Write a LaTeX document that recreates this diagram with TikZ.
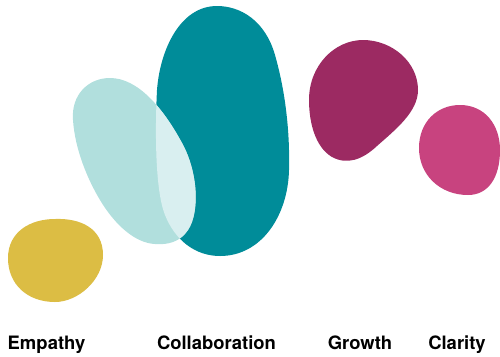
\documentclass[tikz,border=0pt]{standalone}
\usepackage{fontspec}
\setmainfont{TeX Gyre Heros}
\usepackage{tikz}
\usepackage{xcolor}

\definecolor{empathycol}{HTML}{DCBD44}
\definecolor{lightteal}{HTML}{B1DFDD}
\definecolor{overlapcol}{HTML}{D9EFF0}
\definecolor{darkteal}{HTML}{008C99}
\definecolor{growthcol}{HTML}{9C2A62}
\definecolor{claritycol}{HTML}{C8437F}

\newcommand{\lightblob}{(110,78) .. controls (138,78) and (163,108) .. (182,143)
  .. controls (198,172) and (200,212) .. (188,230)
  .. controls (180,242) and (168,245) .. (155,244)
  .. controls (135,243) and (115,225) .. (100,200)
  .. controls (88,180) and (75,150) .. (73,120)
  .. controls (71,95) and (88,78) .. (110,78) -- cycle}
\newcommand{\darkblob}{(217,6) .. controls (240,6) and (265,20) .. (275,55)
  .. controls (285,90) and (290,130) .. (289,170)
  .. controls (288,215) and (262,256) .. (220,256)
  .. controls (195,256) and (175,240) .. (165,215)
  .. controls (155,190) and (155,130) .. (157,90)
  .. controls (160,50) and (180,6) .. (217,6) -- cycle}

\begin{document}
\begin{tikzpicture}[x=0.02cm,y=-0.02cm,
    word/.style={anchor=base,inner sep=0pt,font=\fontsize{10.5}{12}\selectfont\bfseries}]
        \useasboundingbox (0,0) rectangle (500,356);
        % blobs
        \fill[empathycol] (55,219) .. controls (80,218) and (103,228) .. (103,255)
          .. controls (103,280) and (78,302) .. (55,302)
          .. controls (28,302) and (8,285) .. (8,258)
          .. controls (8,232) and (30,219) .. (55,219) -- cycle;
        \fill[darkteal] \darkblob;
        \fill[lightteal] \lightblob;
        \begin{scope}
        \clip \darkblob;
        \fill[overlapcol] \lightblob;
        \end{scope}
        \fill[growthcol] (363,40) .. controls (392,40) and (418,62) .. (418,90)
          .. controls (418,112) and (395,130) .. (377,146)
          .. controls (362,160) and (347,165) .. (332,157)
          .. controls (315,147) and (309,122) .. (309,100)
          .. controls (309,65) and (335,40) .. (363,40) -- cycle;
        \fill[claritycol] (460,105) .. controls (485,105) and (500,125) .. (500,150)
          .. controls (500,178) and (488,195) .. (468,195)
          .. controls (440,195) and (419,175) .. (419,148)
          .. controls (419,122) and (437,105) .. (460,105) -- cycle;
        % labels
        \node[word] (empathy) at (46.5,349) {Empathy};
        \node[word] (collab) at (216.5,349) {Collaboration};
        \node[word] (growth) at (360,349) {Growth};
        \node[word] (clarity) at (457,349) {Clarity};
\end{tikzpicture}
\end{document}
